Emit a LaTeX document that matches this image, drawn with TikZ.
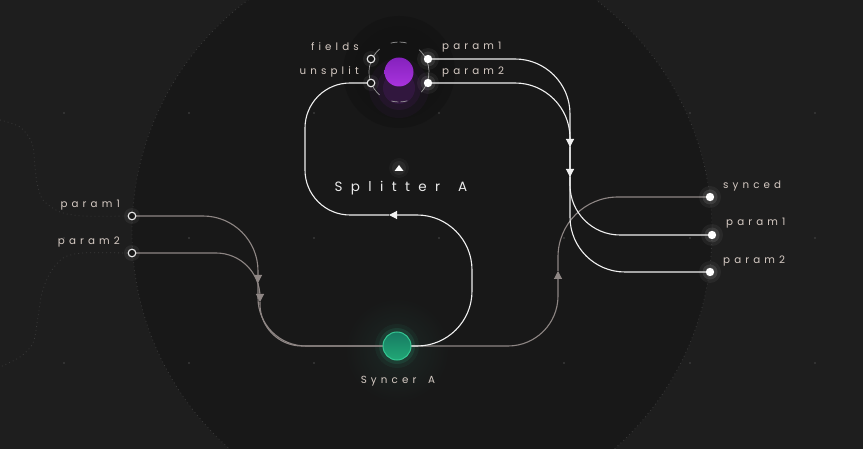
\documentclass[tikz,border=0pt]{standalone}
\usepackage{fontspec}
\setmainfont{Poppins}
\newfontfamily\spaced[LetterSpace=40]{Poppins}
\newfontfamily\wide[LetterSpace=62]{Poppins}
\usetikzlibrary{arrows.meta}

\definecolor{bg}{HTML}{1E1E1E}
\definecolor{disc}{HTML}{181818}
\definecolor{halo}{HTML}{121212}
\definecolor{dotc}{HTML}{3A3A3A}
\definecolor{rope}{HTML}{8E8684}
\definecolor{ink}{HTML}{D6CBC4}
\definecolor{violet}{HTML}{9B2DD2}
\definecolor{violettop}{HTML}{8522BD}
\definecolor{violetbot}{HTML}{A933DE}
\definecolor{jadetop}{HTML}{177A62}
\definecolor{jadebot}{HTML}{21A876}
\definecolor{jaderim}{HTML}{34C692}
\definecolor{teal}{HTML}{1C2825}

\begin{document}
\begin{tikzpicture}[x=1pt,y=-1pt,
  wire/.style={line width=1.1pt},
  gwire/.style={wire,draw=rope},
  wwire/.style={wire,draw=white!94!black},
  tip/.style={-{Triangle[length=8pt,width=8pt]}},
  lbl/.style={text=ink,font=\spaced\fontsize{10.3}{12}\selectfont,inner sep=0pt},
  title/.style={text=white!92!black,inner sep=0pt},
  faint/.style={draw=dotc,line width=0.8pt,dash pattern=on 0.8pt off 3.2pt},
  ring/.style={draw=white!60!black,line width=0.7pt}
]

\fill[bg] (0,0) rectangle (863,449);
\useasboundingbox (0,0) rectangle (863,449);

\fill[disc] (422,232) circle (290);
\draw[faint] (422,232) circle (290);

\draw[faint] plot[smooth] coordinates {(0,120) (20,127) (32,143) (35,167) (37,183) (43,200) (60,212) (83,216) (127,216)};
\draw[faint] plot[smooth] coordinates {(127,253) (83,253) (63,258) (50,273) (42,293) (38,317) (33,343) (20,357) (0,367)};

\foreach \x in {64,189,314,439,564,690,815}
    \foreach \y in {113,238,363}
        \fill[dotc] (\x,\y) circle (1.2);

% halos
\shade[inner color=halo,outer color=halo!70!disc] (399,72) circle (56);
\foreach \r/\o in {30/0.05,22/0.08,16/0.12}
    \fill[violet,opacity=\o] (399,88) circle (\r);
\shade[inner color=teal,outer color=disc] (397,350) circle (52);
\foreach \r/\o in {22/0.06,18/0.12}
    \fill[jaderim,opacity=\o] (397,346) circle (\r);

% ports
\coordinate (sync) at (397,346);
\coordinate (lp1) at (132,216);
\coordinate (lp2) at (132,253);
\coordinate (synced) at (710,197);
\coordinate (rp1) at (712,235);
\coordinate (rp2) at (710,272);
\coordinate (fl) at (371,59);
\coordinate (us) at (371,83);
\coordinate (sp1) at (428,59);
\coordinate (sp2) at (428,83);

\coordinate (a1) at (258,283);
\coordinate (a2) at (260,302);
\coordinate (a3) at (558,271);
\coordinate (a4) at (389,215);
\coordinate (a5) at (570,147);
\coordinate (a6) at (570,177);

\draw[gwire,tip,rounded corners=55pt] (lp1) -| (a1);
\draw[gwire,rounded corners=48pt] (a1) |- (sync);
\draw[gwire,tip,rounded corners=44pt] (lp2) -| (a2);
\draw[gwire,rounded corners=42pt] (a2) |- (sync);
\draw[gwire,tip,rounded corners=50pt] (sync) -| (a3);
\draw[gwire,rounded corners=60pt] (a3) |- (synced);

\draw[wwire,tip,rounded corners=55pt] (sync) -- (472,346) -- (472,215) -- (a4);
\draw[wwire,rounded corners=45pt] (a4) -- (305,215) -- (305,83) -- (us);
\draw[wwire,tip,rounded corners=55pt] (sp1) -| (a5);
\draw[wwire,rounded corners=50pt] (a5) |- (rp1);
\draw[wwire,tip,rounded corners=55pt] (sp2) -| (a6);
\draw[wwire,rounded corners=55pt] (a6) |- (rp2);

% splitter
\draw[ring] (399,72) ++(130:30) arc[start angle=130,end angle=230,radius=30];
\draw[ring] (399,72) ++(-48:30) arc[start angle=-48,end angle=42,radius=30];
\draw[ring,dash pattern=on 7pt off 2pt] (399,72) ++(74:30) arc[start angle=74,end angle=106,radius=30];
\draw[ring,dash pattern=on 7pt off 2pt] (399,72) ++(254:30) arc[start angle=254,end angle=286,radius=30];
\shade[top color=violettop,bottom color=violetbot] (399,72) circle (14.5);
\node[circle,inner sep=0pt,minimum size=29pt] (splitter) at (399,72) {};

\foreach \p in {lp1,lp2,fl,us}{
    \fill[white,opacity=0.06] (\p) circle (8);
    \draw[white!92!black,fill=disc,line width=1.1pt] (\p) circle (3.8);
}
\foreach \p in {sp1,sp2,synced,rp1,rp2}{
    \fill[white,opacity=0.05] (\p) circle (11);
    \fill[white,opacity=0.10] (\p) circle (7.5);
    \fill[white] (\p) circle (4.2);
}

% syncer
\node[circle,draw=jaderim,line width=1pt,minimum size=28pt,inner sep=0pt,
      top color=jadetop,bottom color=jadebot] (syncer) at (sync) {};

\foreach \r/\o in {10/0.03,7/0.05}
    \fill[white,opacity=\o] (399,168) circle (\r);
\fill[white] (394.5,171) -- (403.5,171) -- (399,165) -- cycle;

% labels
\node[lbl,anchor=east] (tfl) at (359,47) {fields};
\node[lbl,anchor=east] (tus) at (359,72) {unsplit};
\node[lbl,anchor=west] (tsp1) at (442,47) {param1};
\node[lbl,anchor=west] (tsp2) at (442,72) {param2};
\node[lbl,anchor=east] (tlp1) at (120,205) {param1};
\node[lbl,anchor=east] (tlp2) at (120,242) {param2};
\node[lbl,anchor=west] (tsynced) at (723,186) {synced};
\node[lbl,anchor=west] (trp1) at (726,223) {param1};
\node[lbl,anchor=west] (trp2) at (723,261) {param2};
\node[title,font=\wide\fontsize{13.5}{15}\selectfont] (tsplit) at (401,188) {Splitter\hspace{6pt} A};
\node[lbl] (tsync) at (398,381) {Syncer\hspace{5pt} A};

\end{tikzpicture}
\end{document}
